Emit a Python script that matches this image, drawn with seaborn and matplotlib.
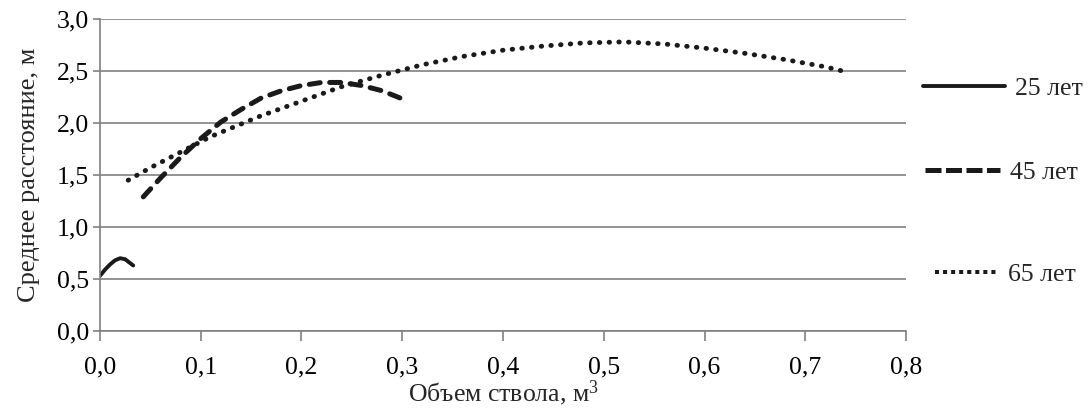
import pandas as pd
import seaborn as sns
import matplotlib.pyplot as plt
from matplotlib.lines import Line2D

# data
x_25 = [0.0, 0.005, 0.01, 0.015, 0.02, 0.025, 0.033]
y_25 = [0.53, 0.59, 0.64, 0.68, 0.70, 0.69, 0.63]

x_45 = [0.043, 0.06, 0.08, 0.10, 0.12, 0.14, 0.16, 0.18, 0.20, 0.22, 0.24, 0.26, 0.28, 0.298]
y_45 = [1.29, 1.47, 1.67, 1.85, 2.01, 2.13, 2.24, 2.31, 2.36, 2.39, 2.39, 2.36, 2.31, 2.24]

x_65 = [0.028, 0.05, 0.07, 0.09, 0.11, 0.13, 0.16, 0.20, 0.24, 0.28, 0.32, 0.36,
        0.40, 0.44, 0.48, 0.52, 0.56, 0.60, 0.64, 0.68, 0.72, 0.737]
y_65 = [1.45, 1.57, 1.67, 1.77, 1.87, 1.95, 2.07, 2.21, 2.35, 2.46, 2.56, 2.64,
        2.70, 2.74, 2.77, 2.78, 2.76, 2.72, 2.67, 2.61, 2.54, 2.50]

labels = ["25 лет", "45 лет", "65 лет"]
x_ticks = [0.0, 0.1, 0.2, 0.3, 0.4, 0.5, 0.6, 0.7, 0.8]
x_ticklabels = ["0,0", "0,1", "0,2", "0,3", "0,4", "0,5", "0,6", "0,7", "0,8"]
y_ticks = [0.0, 0.5, 1.0, 1.5, 2.0, 2.5, 3.0]
y_ticklabels = ["0,0", "0,5", "1,0", "1,5", "2,0", "2,5", "3,0"]

df = pd.concat([
    pd.DataFrame({"x": x_25, "y": y_25, "age": labels[0]}),
    pd.DataFrame({"x": x_45, "y": y_45, "age": labels[1]}),
    pd.DataFrame({"x": x_65, "y": y_65, "age": labels[2]}),
])

sns.set_style("white")
plt.rcParams["font.family"] = ["Liberation Serif", "DejaVu Serif"]
plt.rcParams["mathtext.fontset"] = "custom"
plt.rcParams["mathtext.rm"] = "Liberation Serif"
plt.rcParams["mathtext.it"] = "Liberation Serif"

FS = 18.5
INK = "#1a1a1a"
GRAY = "#808080"

fig = plt.figure(figsize=(10.89, 4.08), dpi=100)
ax = fig.add_axes([0.0918, 0.1887, 0.7402, 0.7647])

dashes = {labels[0]: "", labels[1]: (2.2, 1.9), labels[2]: (0.1, 1.9)}
widths = [2.8, 3.6, 3.5]
sns.lineplot(data=df, x="x", y="y", hue="age", style="age", dashes=dashes,
             palette=[INK] * 3, sort=False, legend=False, ax=ax)
for line, lw in zip(ax.lines, widths):
    line.set_linewidth(lw)
    line.set_dash_capstyle("round")
    line.set_solid_capstyle("round")

ax.set_xlim(0, 0.8)
ax.set_ylim(0, 3.0)
ax.set_xticks(x_ticks)
ax.set_xticklabels(x_ticklabels)
ax.set_yticks(y_ticks)
ax.set_yticklabels(y_ticklabels)
ax.tick_params(labelsize=FS, colors=GRAY, labelcolor="black", width=1.2,
               direction="out", bottom=True, left=True)
ax.tick_params(axis="x", length=7, pad=11)
ax.tick_params(axis="y", length=5, pad=3)
ax.yaxis.grid(True, color=GRAY, linewidth=1.2)
ax.xaxis.grid(False)
for side in ["top", "right"]:
    ax.spines[side].set_visible(False)
for side in ["left", "bottom"]:
    ax.spines[side].set_color(GRAY)
    ax.spines[side].set_linewidth(1.2)

ax.set_xlabel("Объем ствола, м$^3$", fontsize=FS, labelpad=0)
ax.set_ylabel("Среднее расстояние, м", fontsize=19, labelpad=12)

# separate legend entries on the right, as in the original
leg_y = [0.784, 0.578, 0.326]
leg_x = [0.826, 0.828, 0.837]
leg_ls = ["-", (0, (3.2, 0.9)), (0, (1.0, 1.0))]
leg_lw = [2.8, 3.6, 2.9]
leg_len = [3.2, 2.92, 2.45]
for lab, x, y, ls, lw, hl in zip(labels, leg_x, leg_y, leg_ls, leg_lw, leg_len):
    h = Line2D([], [], color=INK, linestyle=ls, linewidth=lw, dash_capstyle="butt")
    fig.legend(handles=[h], labels=[lab], loc="center left",
               bbox_to_anchor=(x, y), frameon=False, fontsize=FS,
               handlelength=hl, handletextpad=0.4)

fig.savefig("out.png", dpi=100)
plt.close(fig)
